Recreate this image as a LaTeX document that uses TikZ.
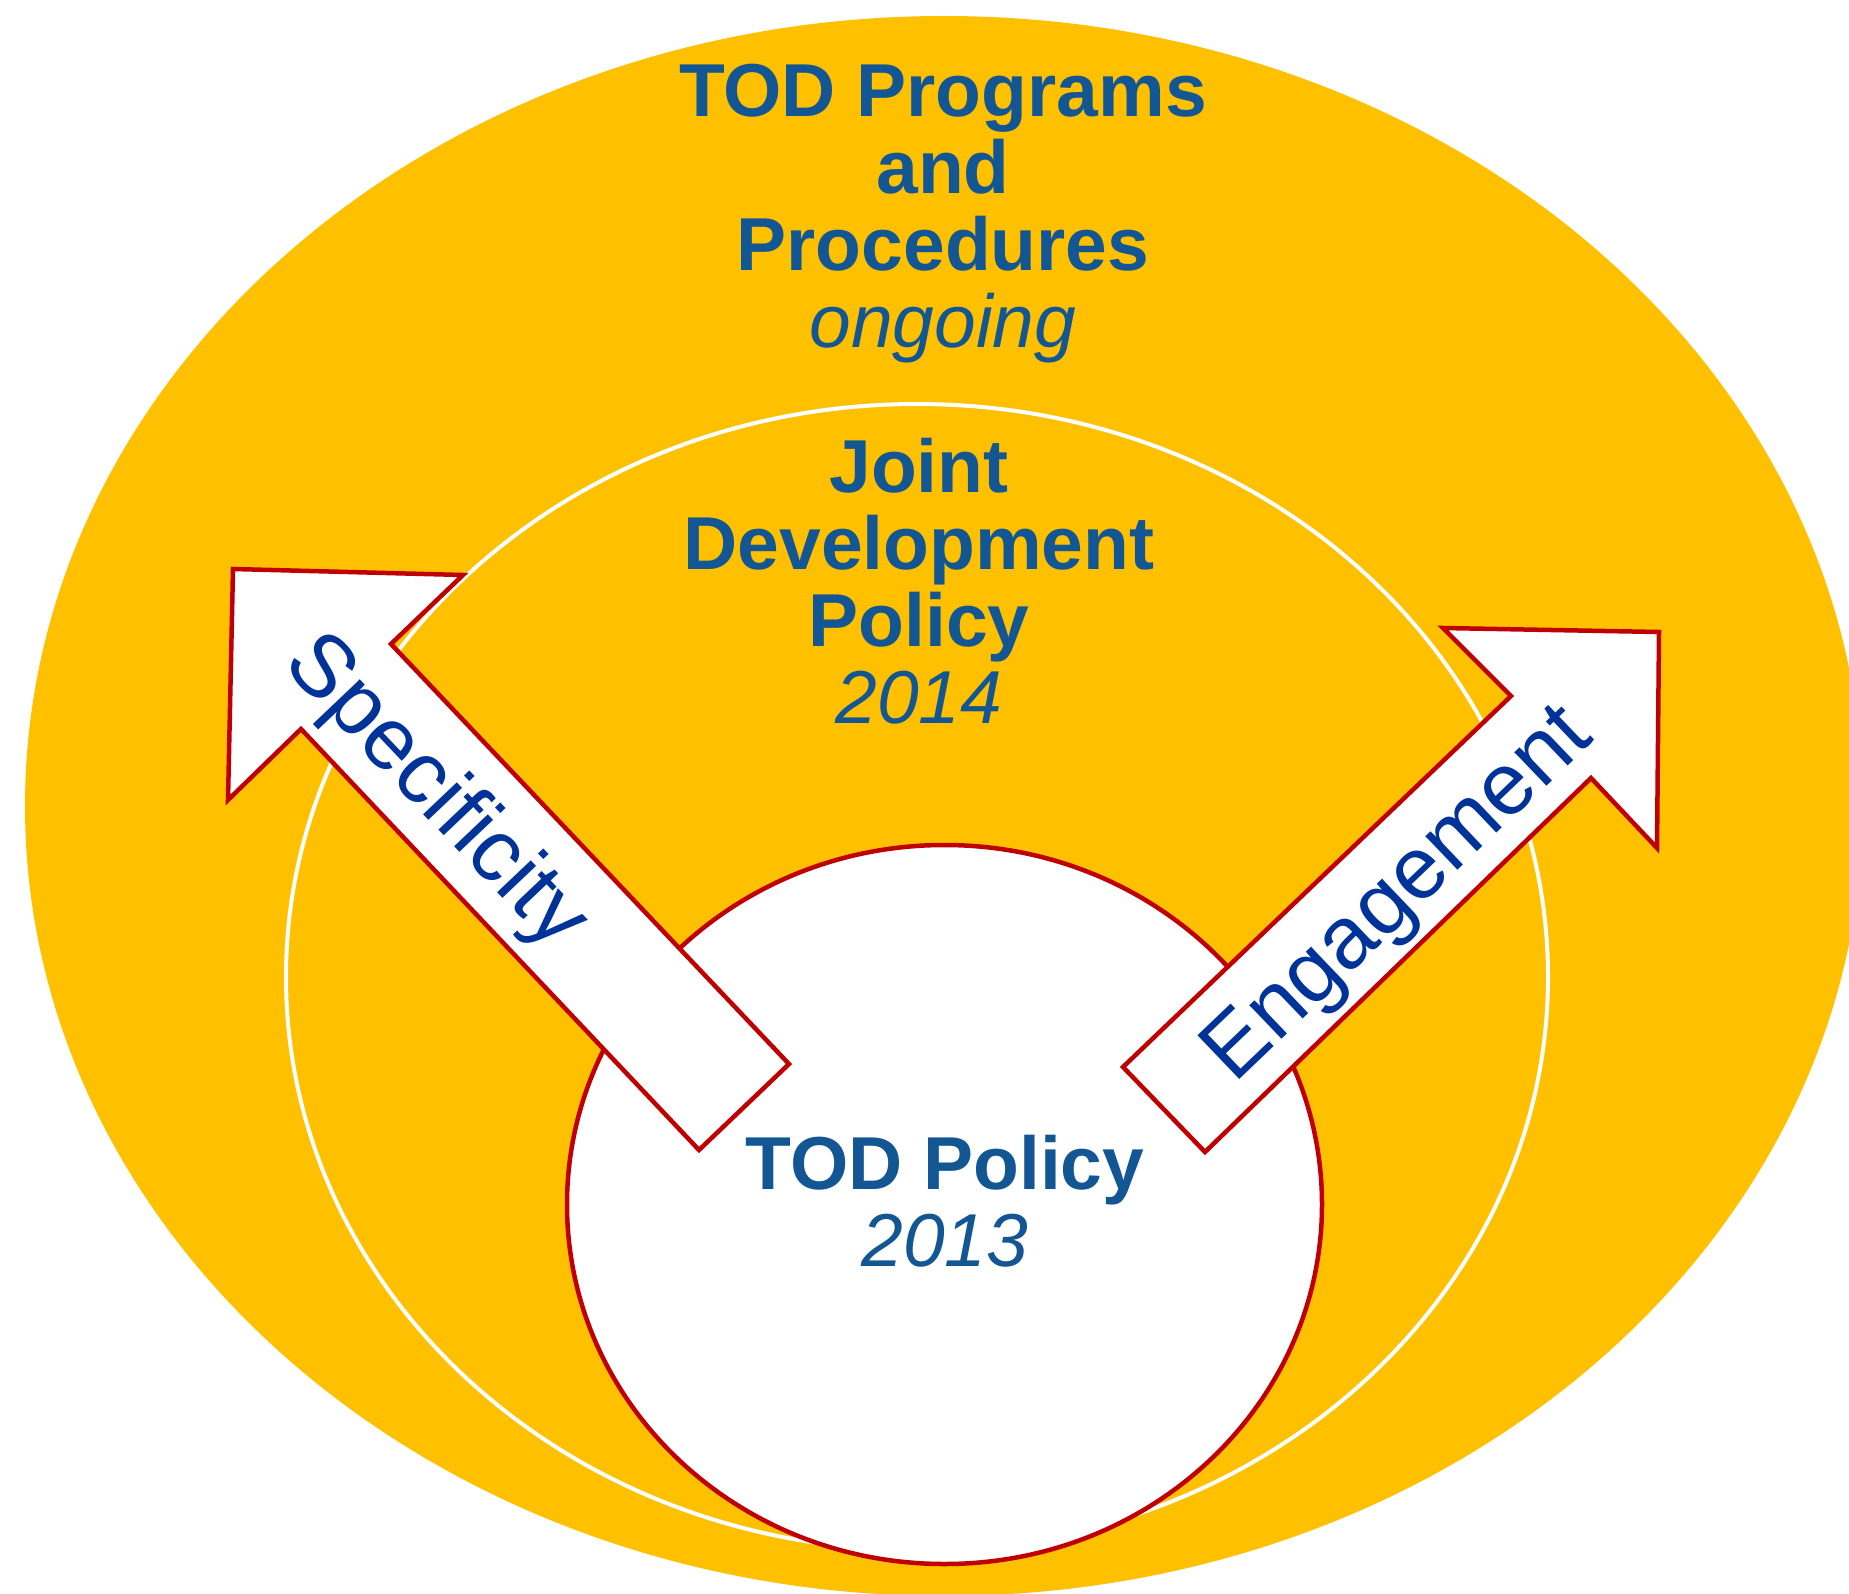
\documentclass[tikz,border=0pt]{standalone}
\usepackage{fontspec}
\setmainfont[Ligatures=NoCommon]{Liberation Sans}
\definecolor{gold}{RGB}{255,192,0}
\definecolor{redline}{RGB}{192,0,0}
\definecolor{textblue}{RGB}{19,86,148}
\definecolor{arrowblue}{RGB}{0,51,153}
\begin{document}
\begin{tikzpicture}[x=1pt,y=-1pt,
  bodytext/.style={text=textblue, font=\fontsize{75}{77}\selectfont\bfseries, anchor=base, inner sep=0pt},
  yeartext/.style={text=textblue, font=\fontsize{75}{77}\selectfont\itshape, anchor=base, inner sep=0pt},
  arrowtext/.style={text=arrowblue, font=\fontsize{88}{90}\selectfont, anchor=base, inner sep=0pt},
  arrowshape/.style={fill=white, draw=redline, line width=4.5pt, miter limit=10},
  redcircle/.style={fill=white, draw=redline, line width=4.5pt},
  midring/.style={fill=gold, draw=white, line width=4pt}
]
\useasboundingbox (0,0) rectangle (1849,1594);
\fill[white] (0,0) rectangle (1849,1594);
% outer ellipse
\fill[gold] (944,806) ellipse [x radius=919pt, y radius=790pt];
% middle ellipse
\path[midring] (917,977) ellipse [x radius=631pt, y radius=573pt];
% inner circle
\path[redcircle] (944.5,1204.5) ellipse [x radius=377.5pt, y radius=359.5pt];

% left arrow (Specificity)
\coordinate (s1) at (789,1064);
\coordinate (s2) at (391,644);
\coordinate (s3) at (463,575);
\coordinate (s4) at (233,569);
\coordinate (s5) at (228,800);
\coordinate (s6) at (301,729);
\coordinate (s7) at (699,1150);
\draw[arrowshape] (s1) -- (s2) -- (s3) -- (s4) -- (s5) -- (s6) -- (s7) -- cycle;

% right arrow (Engagement)
\coordinate (e1) at (1123,1067);
\coordinate (e2) at (1511,696);
\coordinate (e3) at (1443,628);
\coordinate (e4) at (1659,632);
\coordinate (e5) at (1657,848);
\coordinate (e6) at (1591,778);
\coordinate (e7) at (1205,1152);
\draw[arrowshape] (e1) -- (e2) -- (e3) -- (e4) -- (e5) -- (e6) -- (e7) -- cycle;

% texts
\node[bodytext] (prog1) at (943,117) {TOD Programs};
\node[bodytext] (prog2) at (943,194) {and};
\node[bodytext] (prog3) at (943,271) {Procedures};
\node[yeartext] (prog4) at (943,348) {ongoing};

\node[bodytext] (joint1) at (919,492) {Joint};
\node[bodytext] (joint2) at (919,569) {Development};
\node[bodytext] (joint3) at (919,646) {Policy};
\node[yeartext] (joint4) at (919,723) {2014};

\node[bodytext] (tod1) at (945,1189) {TOD Policy};
\node[yeartext] (tod2) at (945,1266) {2013};

\node[arrowtext, rotate=-46.5] (spec) at (418,809) {Specificity};
\node[arrowtext, rotate=43.7] (eng) at (1415,912) {Engagement};
\end{tikzpicture}
\end{document}
